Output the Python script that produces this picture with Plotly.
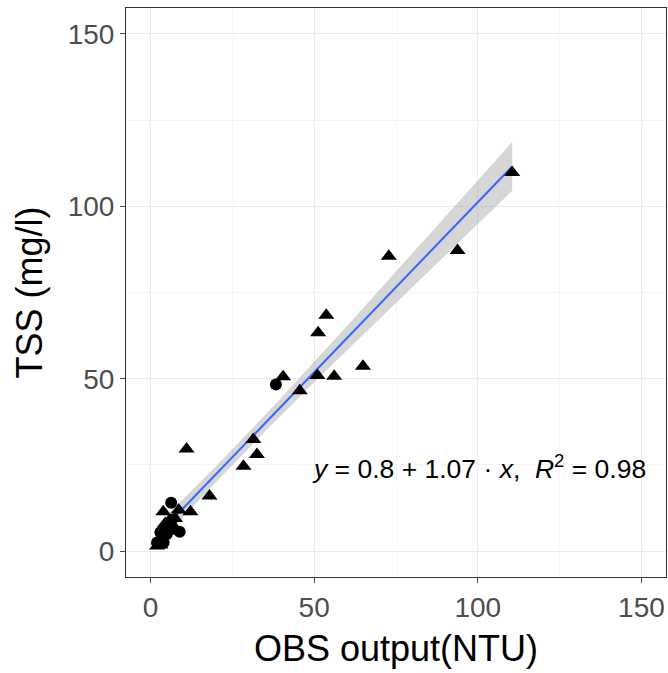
import numpy as np
import plotly.graph_objects as go

# ---- data ----
tri_x = [110.5, 93.8, 72.8, 53.7, 51.2, 64.9, 56.1, 51.0, 40.5, 45.6, 31.4, 32.5, 28.4,
         11.0, 18.0, 12.2, 3.9, 8.6, 7.5, 4.5, 6.0, 2.5, 3.0, 2.0]
tri_y = [109.8, 87.2, 85.5, 68.4, 63.3, 53.6, 50.7, 50.9, 50.6, 46.5, 32.4, 28.0, 24.6,
         29.6, 16.0, 11.4, 11.4, 11.9, 9.5, 8.0, 7.5, 3.0, 1.8, 1.5]
cir_x = [38.3, 6.3, 8.9, 7.0, 5.0, 3.5, 2.0, 4.0, 3.0, 6.5]
cir_y = [48.3, 14.0, 5.6, 6.5, 5.0, 4.0, 2.5, 2.5, 5.5, 9.0]

# fitted line as drawn in the picture
fit_intercept = 2.6
fit_slope = 0.986
eq_text = "<i>y</i> = 0.8 + 1.07 · <i>x</i>,  <i>R</i><sup>2</sup> = 0.98"
tick_vals = [0, 50, 100, 150]
minor_vals = [25, 75, 125]
axis_range = [-7.5, 157.5]

FONT = "Liberation Sans, Arial, sans-serif"

# ---- fit line and 95% confidence band ----
all_x = np.array(tri_x + cir_x)
all_y = np.array(tri_y + cir_y)
n = len(all_x)
resid = all_y - (fit_intercept + fit_slope * all_x)
s = np.sqrt(np.sum(resid ** 2) / (n - 2))
xm = all_x.mean()
sxx = np.sum((all_x - xm) ** 2)
xs = np.linspace(all_x.min(), all_x.max(), 80)
ys = fit_intercept + fit_slope * xs
se = s * np.sqrt(1.0 / n + (xs - xm) ** 2 / sxx)
tcrit = 2.03
lo = ys - tcrit * se
hi = ys + tcrit * se

fig = go.Figure()
fig.add_trace(go.Scatter(
    x=np.concatenate([xs, xs[::-1]]), y=np.concatenate([hi, lo[::-1]]),
    fill="toself", fillcolor="rgba(153,153,153,0.4)", line=dict(width=0),
    mode="lines", hoverinfo="skip", showlegend=False))
fig.add_trace(go.Scatter(x=xs, y=ys, mode="lines",
                         line=dict(color="#3366FF", width=2), showlegend=False))
fig.add_trace(go.Scatter(x=tri_x, y=tri_y, mode="markers",
                         marker=dict(symbol="triangle-up", size=14, color="black"),
                         showlegend=False))
fig.add_trace(go.Scatter(x=cir_x, y=cir_y, mode="markers",
                         marker=dict(symbol="circle", size=12, color="black"),
                         showlegend=False))

fig.add_annotation(
    x=48.7, y=24.5, xanchor="left", yanchor="middle", showarrow=False,
    text=eq_text, font=dict(family=FONT, size=26.5, color="black"))

axis_common = dict(
    range=axis_range, tickvals=tick_vals, showgrid=True, gridcolor="#ebebeb",
    gridwidth=1, zeroline=False, showline=True, mirror=True, linecolor="#333333",
    linewidth=1, ticks="outside", ticklen=5, tickcolor="#4d4d4d", tickwidth=1,
    tickfont=dict(family=FONT, size=28, color="#4d4d4d"),
    minor=dict(tickvals=minor_vals, showgrid=True, gridcolor="#f4f4f4", ticks=""),
)
fig.update_xaxes(**axis_common,
                 title=dict(text="OBS output(NTU)", standoff=14,
                            font=dict(family=FONT, size=36, color="black")))
fig.update_yaxes(**axis_common,
                 title=dict(text="TSS (mg/l)", standoff=14,
                            font=dict(family=FONT, size=36, color="black")))

fig.update_layout(
    width=668, height=673, margin=dict(l=126, r=2, t=8, b=96),
    paper_bgcolor="white", plot_bgcolor="white", showlegend=False)

fig.write_html(
    "out.html",
    config={"displayModeBar": False},
    post_script="document.body.style.margin='0';"
                "Plotly.Plots.resize(document.getElementById('{plot_id}'));")
